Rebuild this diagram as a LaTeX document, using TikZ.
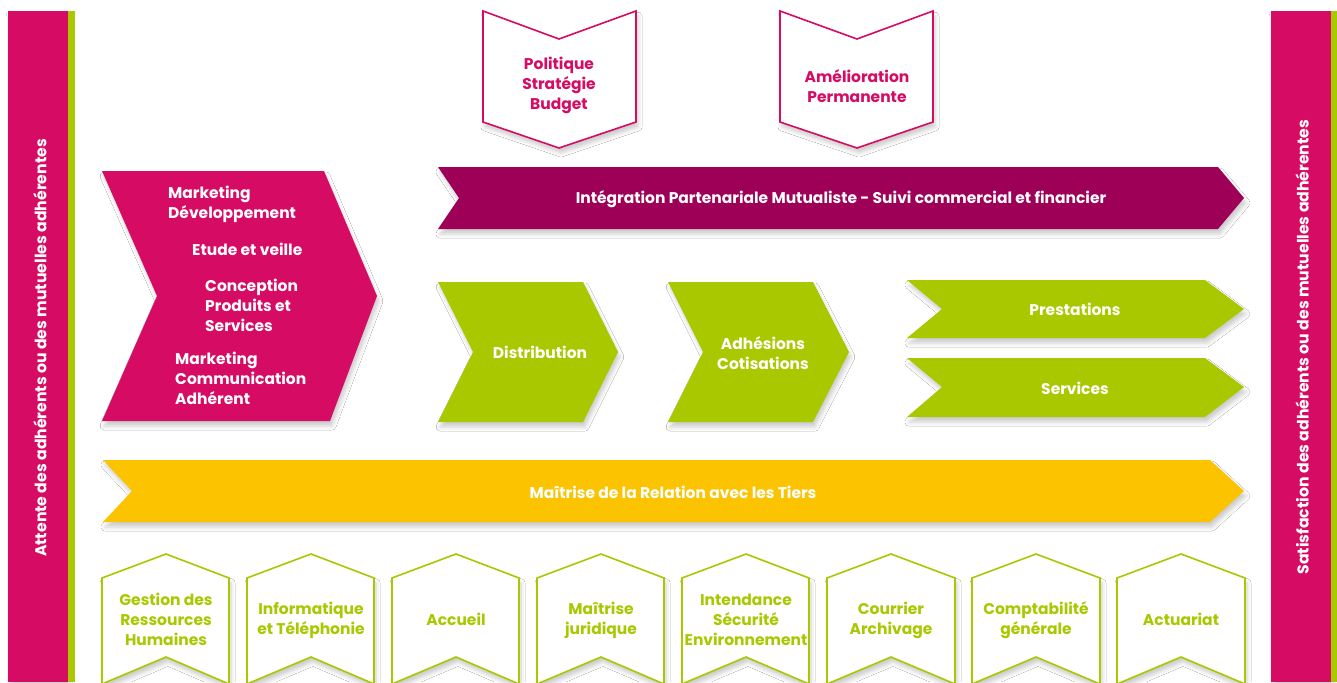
\documentclass[tikz,border=0pt]{standalone}
\usepackage{fontspec}
\setmainfont{Poppins}
\usetikzlibrary{shadows.blur}
\definecolor{rose}{RGB}{214,11,100}
\definecolor{plum}{RGB}{158,0,88}
\definecolor{lime}{RGB}{170,200,0}
\definecolor{amber}{RGB}{252,196,0}

\begin{document}
\begin{tikzpicture}[x=1pt,y=-1pt,
    soft/.style={blur shadow={shadow xshift=2pt,shadow yshift=-5pt,
      shadow blur radius=4pt,shadow opacity=20}},
    ribbon/.style={soft,fill=#1,draw=none},
    outline/.style={soft,fill=white,draw=#1,line width=1.6pt,line join=miter},
    txt/.style={font=\fontsize{15.5}{20}\selectfont\bfseries,align=center,
      text=#1,inner sep=0pt},
    txt/.default=white,
    sidetxt/.style={txt,rotate=90,font=\fontsize{15.7}{18}\selectfont\bfseries}
  ]
    \useasboundingbox[fill=white] (0,0) rectangle (1337,682);

    % side bars
    \fill[rose,soft] (8,11) rectangle (68,682);
    \fill[lime] (68,11) rectangle (75,682);
    \fill[rose,soft] (1271,11) rectangle (1331,682);
    \fill[lime] (1331,11) rectangle (1337,682);
    \node[sidetxt] (attente) at (40,348)
      {Attente des adhérents ou des mutuelles adhérentes};
    \node[sidetxt] (satisf) at (1302,347)
      {Satisfaction des adhérents ou des mutuelles adhérentes};

    % pilotage
    \draw[outline=rose] (483,11) -- (559,39) -- (636,11) -- (636,122)
      -- (559,148) -- (483,122) -- cycle;
    \draw[outline=rose] (780,11) -- (857,39) -- (933,11) -- (933,122)
      -- (857,148) -- (780,122) -- cycle;
    \node[txt=rose] (pol) at (559,85.5) {Politique\\Stratégie\\Budget};
    \node[txt=rose] (amel) at (857,86) {Amélioration\\Permanente};

    % marketing
    \fill[ribbon=rose] (102,171) -- (324,171) -- (377,296) -- (330,421)
      -- (102,421) -- (157,296) -- cycle;
    \node[txt,align=left,anchor=north west] (mkdev) at (168,186)
      {Marketing\\Développement};
    \node[txt,anchor=north west] (veille) at (192,243) {Etude et veille};
    \node[txt,align=left,anchor=north west] (concep) at (205,279)
      {Conception\\Produits et\\Services};
    \node[txt,align=left,anchor=north west] (mkcom) at (175,352)
      {Marketing\\Communication\\Adhérent};

    % realisation
    \fill[ribbon=plum] (438,167) -- (1218,167) -- (1244,198) -- (1218,229)
      -- (438,229) -- (459,198) -- cycle;
    \node[txt] (integ) at (841,199)
      {Intégration Partenariale Mutualiste - Suivi commercial et financier};

    \fill[ribbon=lime] (438,282) -- (583,282) -- (618,352) -- (583,422)
      -- (438,422) -- (473,352) -- cycle;
    \fill[ribbon=lime] (668,282) -- (813,282) -- (849,352) -- (813,422)
      -- (668,422) -- (703,352) -- cycle;
    \fill[ribbon=lime] (907,280) -- (1205,280) -- (1244,309) -- (1205,338)
      -- (907,338) -- (942,309) -- cycle;
    \fill[ribbon=lime] (907,358) -- (1205,358) -- (1244,387) -- (1205,417)
      -- (907,417) -- (942,387) -- cycle;
    \node[txt] (distri) at (540,352) {Distribution};
    \node[txt] (adhes) at (763,353) {Adhésions\\Cotisations};
    \node[txt] (presta) at (1075,309) {Prestations};
    \node[txt] (serv) at (1075,388) {Services};

    \fill[ribbon=amber] (103,460) -- (1210,460) -- (1244,491) -- (1210,522)
      -- (103,522) -- (132,491) -- cycle;
    \node[txt] (tiers) at (673,492) {Maîtrise de la Relation avec les Tiers};

    % support
    \draw[outline=lime] (102,578) -- (166,554) -- (229,578) -- (229,684)
      -- (166,657) -- (102,684) -- cycle;
    \draw[outline=lime] (247,578) -- (311,554) -- (374,578) -- (374,684)
      -- (311,657) -- (247,684) -- cycle;
    \draw[outline=lime] (392,578) -- (456,554) -- (519,578) -- (519,684)
      -- (456,657) -- (392,684) -- cycle;
    \draw[outline=lime] (537,578) -- (601,554) -- (664,578) -- (664,684)
      -- (601,657) -- (537,684) -- cycle;
    \draw[outline=lime] (682,578) -- (746,554) -- (809,578) -- (809,684)
      -- (746,657) -- (682,684) -- cycle;
    \draw[outline=lime] (827,578) -- (891,554) -- (955,578) -- (955,684)
      -- (891,657) -- (827,684) -- cycle;
    \draw[outline=lime] (972,578) -- (1036,554) -- (1100,578) -- (1100,684)
      -- (1036,657) -- (972,684) -- cycle;
    \draw[outline=lime] (1117,578) -- (1181,554) -- (1245,578) -- (1245,684)
      -- (1181,657) -- (1117,684) -- cycle;
    \node[txt=lime] (rh) at (166,619) {Gestion des\\Ressources\\Humaines};
    \node[txt=lime] (info) at (311,620) {Informatique\\et Téléphonie};
    \node[txt=lime] (accueil) at (456,619) {Accueil};
    \node[txt=lime] (jur) at (601,620) {Maîtrise\\juridique};
    \node[txt=lime] (inten) at (746,620) {Intendance\\Sécurité\\Environnement};
    \node[txt=lime] (courr) at (891,620) {Courrier\\Archivage};
    \node[txt=lime] (compta) at (1036,620) {Comptabilité\\générale};
    \node[txt=lime] (actu) at (1181,619) {Actuariat};
  \end{tikzpicture}
\end{document}
